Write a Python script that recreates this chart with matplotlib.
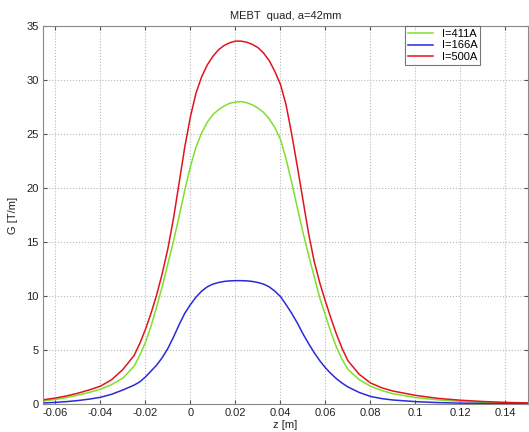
import matplotlib
matplotlib.use('Agg')
import matplotlib.pyplot as plt

# --- data (z in m, G in T/m) ---
z = [-0.065, -0.06, -0.055, -0.05, -0.045, -0.04, -0.035, -0.03, -0.025,
     -0.0225, -0.02, -0.0175, -0.015, -0.0125, -0.01, -0.0075, -0.005, -0.0025,
     0.0, 0.0025, 0.005, 0.0075, 0.01, 0.0125, 0.015, 0.0175, 0.02,
     0.0225, 0.025, 0.0275, 0.03, 0.0325, 0.035, 0.0375, 0.04, 0.0425,
     0.045, 0.0475, 0.05, 0.0525, 0.055, 0.0575, 0.06, 0.0625, 0.065,
     0.0675, 0.07,
     0.075, 0.08, 0.085, 0.09, 0.1, 0.11, 0.12, 0.13, 0.14, 0.15]

g_411 = [0.3, 0.42, 0.6, 0.82, 1.07, 1.36, 1.8, 2.4, 3.5,
         4.5, 5.7, 7.2, 9.0, 10.9, 13.0, 15.1, 17.4, 19.8,
         22.0, 23.8, 25.1, 26.1, 26.8, 27.25, 27.6, 27.85, 27.95,
         28.0, 27.9, 27.7, 27.4, 27.0, 26.4, 25.6, 24.5, 22.7,
         20.5, 18.2, 15.9, 13.8, 11.8, 9.8, 8.2, 6.6, 5.2,
         4.1, 3.2,
         2.25, 1.65, 1.25, 0.95, 0.6, 0.38, 0.25, 0.15, 0.1, 0.07]

g_166 = [0.1, 0.15, 0.22, 0.32, 0.45, 0.62, 0.9, 1.3, 1.75,
         2.05, 2.5, 3.05, 3.6, 4.3, 5.15, 6.2, 7.35, 8.4,
         9.2, 9.9, 10.45, 10.85, 11.1, 11.25, 11.35, 11.4, 11.42,
         11.42, 11.4, 11.35, 11.25, 11.1, 10.85, 10.45, 9.95, 9.2,
         8.4, 7.5, 6.5, 5.6, 4.75, 4.0, 3.35, 2.8, 2.32,
         1.92, 1.58,
         1.07, 0.7, 0.5, 0.37, 0.22, 0.13, 0.08, 0.05, 0.03, 0.02]

g_500 = [0.4, 0.55, 0.75, 1.0, 1.3, 1.65, 2.25, 3.2, 4.5,
         5.6, 6.9, 8.4, 10.1, 12.1, 14.4, 17.2, 20.5, 23.8,
         26.6, 28.8, 30.3, 31.4, 32.2, 32.8, 33.2, 33.45, 33.6,
         33.6, 33.5, 33.3, 33.0, 32.5, 31.8, 30.8, 29.6, 27.7,
         25.0, 22.0, 18.9, 15.8, 13.2, 11.2, 9.5, 7.9, 6.4,
         5.1, 4.0,
         2.75, 1.95, 1.5, 1.2, 0.8, 0.52, 0.35, 0.23, 0.15, 0.1]

labels = ['I=411A', 'I=166A', 'I=500A']
colors = ['#7fe02a', '#2a2ad8', '#e0141e']

xticks = [-0.06, -0.04, -0.02, 0, 0.02, 0.04, 0.06, 0.08, 0.1, 0.12, 0.14]
xticklabels = ['-0.06', '-0.04', '-0.02', '0', '0.02', '0.04', '0.06', '0.08', '0.1', '0.12', '0.14']
yticks = [0, 5, 10, 15, 20, 25, 30, 35]

plt.rcParams['font.family'] = ['Liberation Sans', 'DejaVu Sans']

fig = plt.figure(figsize=(5.29, 4.32), dpi=100)
ax = fig.add_axes([43 / 529, 28 / 432, 485 / 529, 378 / 432])

for vals, lab, col in zip([g_411, g_166, g_500], labels, colors):
    ax.plot(z, vals, color=col, linewidth=1.1, label=lab)

ax.set_xlim(-0.0655, 0.15)
ax.set_ylim(0, 35)
ax.set_xticks(xticks)
ax.set_xticklabels(xticklabels)
ax.set_yticks(yticks)
ax.grid(True, color='#b8b8b8', linestyle=':', linewidth=0.8)
ax.tick_params(direction='in', length=3, labelsize=8, top=True, right=True,
               color='#555555', labelcolor='#222222', pad=3)
for sp in ax.spines.values():
    sp.set_color('#888888')

ax.set_xlabel('z [m]', fontsize=8, labelpad=1, color='#222222')
ax.set_ylabel('G [T/m]', fontsize=8, labelpad=6, color='#222222')
ax.set_title('MEBT  quad, a=42mm', fontsize=8, pad=5, color='#222222')

leg = ax.legend(loc='upper right', bbox_to_anchor=(0.902, 1.0), fontsize=8,
                frameon=True, fancybox=False, borderpad=0.3, labelspacing=0.1,
                handlelength=2.2, handletextpad=0.8, borderaxespad=0)
leg.get_frame().set_edgecolor('#555555')
leg.get_frame().set_linewidth(0.8)

plt.savefig('out.png', dpi=100)
plt.close()
